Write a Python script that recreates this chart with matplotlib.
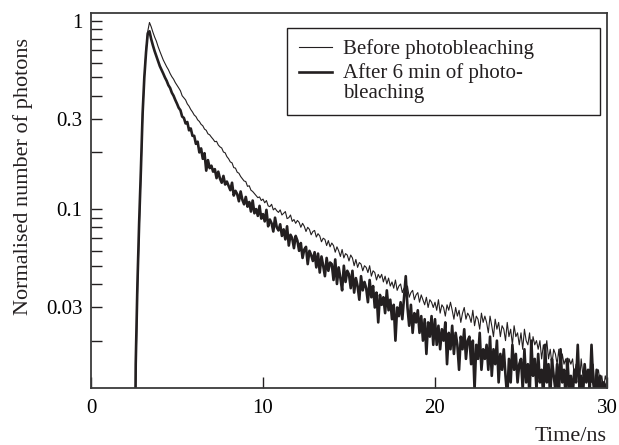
import numpy as np
import matplotlib.pyplot as plt

plt.rcParams['font.family'] = ['Liberation Serif', 'DejaVu Serif']

# time axis of the decay curves (0.1 ns bins)
time_ns = np.linspace(2.5, 30.0, 276)

# normalised photon counts
before = [
    0.001, 0.012, 0.035, 0.075, 0.15,
    0.30, 0.50, 0.70, 0.88, 0.98, 0.93, 0.87, 0.82, 0.78, 0.73,
    0.69, 0.655, 0.62, 0.595, 0.57, 0.55, 0.525, 0.505, 0.49, 0.47,
    0.455, 0.44, 0.425, 0.40, 0.39, 0.38, 0.362, 0.352, 0.338, 0.328,
    0.316, 0.31, 0.298, 0.292, 0.282, 0.277, 0.266, 0.262, 0.251, 0.248,
    0.241, 0.235, 0.228, 0.229, 0.219, 0.214, 0.211, 0.201, 0.199, 0.190,
    0.185, 0.178, 0.176, 0.166, 0.165, 0.157, 0.155, 0.149, 0.145, 0.141,
    0.140, 0.132, 0.133, 0.126, 0.124, 0.121, 0.118, 0.115, 0.116, 0.111,
    0.113, 0.108, 0.111, 0.104, 0.103, 0.106, 0.099, 0.101, 0.098, 0.096,
    0.099, 0.093, 0.095, 0.097, 0.089, 0.090, 0.093, 0.086, 0.088, 0.084,
    0.087, 0.085, 0.080, 0.084, 0.081, 0.076, 0.080, 0.078, 0.073, 0.076,
    0.077, 0.071, 0.074, 0.072, 0.067, 0.070, 0.069, 0.064, 0.068, 0.063,
    0.066, 0.064, 0.059, 0.063, 0.060, 0.056, 0.061, 0.055, 0.058, 0.057,
    0.053, 0.057, 0.055, 0.050, 0.054, 0.049, 0.052, 0.051, 0.047, 0.050,
    0.049, 0.046, 0.050, 0.044, 0.047, 0.046, 0.042, 0.045, 0.043, 0.045,
    0.041, 0.044, 0.040, 0.043, 0.039, 0.041, 0.038, 0.042, 0.037, 0.039,
    0.040, 0.036, 0.038, 0.035, 0.039, 0.034, 0.036, 0.037, 0.033, 0.035,
    0.036, 0.032, 0.035, 0.033, 0.031, 0.034, 0.030, 0.033, 0.032, 0.030,
    0.032, 0.029, 0.033, 0.028, 0.031, 0.030, 0.027, 0.031, 0.029, 0.032,
    0.029, 0.026, 0.030, 0.027, 0.029, 0.025, 0.028, 0.030, 0.026, 0.028,
    0.027, 0.025, 0.029, 0.024, 0.027, 0.026, 0.023, 0.028, 0.025, 0.027,
    0.025, 0.022, 0.027, 0.024, 0.021, 0.026, 0.023, 0.025, 0.021, 0.024,
    0.023, 0.020, 0.025, 0.021, 0.023, 0.019, 0.024, 0.021, 0.022, 0.019,
    0.022, 0.018, 0.023, 0.020, 0.019, 0.022, 0.017, 0.021, 0.019, 0.020,
    0.018, 0.020, 0.016, 0.019, 0.017, 0.020, 0.016, 0.018, 0.015, 0.018,
    0.017, 0.015, 0.018, 0.014, 0.017, 0.015, 0.016, 0.013, 0.016, 0.015,
    0.016, 0.013, 0.015, 0.014, 0.012, 0.016, 0.013, 0.015, 0.012, 0.014,
    0.014, 0.012, 0.015, 0.011, 0.013, 0.014, 0.012, 0.013, 0.011, 0.013,
    0.012,
]

after = [
    0.001, 0.015, 0.04, 0.085, 0.16,
    0.32, 0.50, 0.68, 0.86, 0.88, 0.80, 0.74, 0.69, 0.65, 0.61,
    0.575, 0.55, 0.525, 0.50, 0.48, 0.455, 0.44, 0.415, 0.40, 0.38,
    0.363, 0.345, 0.335, 0.310, 0.305, 0.285, 0.290, 0.262, 0.268, 0.245,
    0.245, 0.222, 0.228, 0.200, 0.210, 0.185, 0.198, 0.160, 0.182, 0.165,
    0.170, 0.158, 0.163, 0.146, 0.158, 0.145, 0.138, 0.150, 0.135, 0.140,
    0.133, 0.126, 0.138, 0.118, 0.125, 0.120, 0.110, 0.124, 0.112, 0.106,
    0.116, 0.103, 0.109, 0.097, 0.111, 0.095, 0.100, 0.092, 0.104, 0.089,
    0.094, 0.086, 0.099, 0.081, 0.088, 0.084, 0.076, 0.090, 0.080, 0.077,
    0.083, 0.072, 0.078, 0.069, 0.081, 0.064, 0.073, 0.070, 0.062, 0.072,
    0.068, 0.060, 0.066, 0.055, 0.061, 0.063, 0.051, 0.060, 0.057, 0.053,
    0.059, 0.049, 0.058, 0.046, 0.056, 0.050, 0.044, 0.055, 0.047, 0.052,
    0.051, 0.042, 0.054, 0.040, 0.049, 0.043, 0.037, 0.050, 0.041, 0.047,
    0.045, 0.038, 0.047, 0.036, 0.043, 0.039, 0.033, 0.044, 0.037, 0.041,
    0.038, 0.032, 0.042, 0.034, 0.039, 0.030, 0.036, 0.025, 0.035, 0.031,
    0.034, 0.028, 0.037, 0.029, 0.033, 0.026, 0.031, 0.020, 0.030, 0.027,
    0.032, 0.026, 0.034, 0.044, 0.030, 0.024, 0.031, 0.022, 0.028, 0.025,
    0.029, 0.022, 0.027, 0.020, 0.026, 0.017, 0.025, 0.021, 0.027, 0.019,
    0.026, 0.019, 0.024, 0.018, 0.023, 0.020, 0.025, 0.015, 0.022, 0.018,
    0.024, 0.017, 0.022, 0.019, 0.014, 0.021, 0.018, 0.023, 0.016, 0.020,
    0.021, 0.015, 0.020, 0.011, 0.019, 0.016, 0.022, 0.014, 0.018, 0.016,
    0.019, 0.014, 0.021, 0.013, 0.018, 0.015, 0.020, 0.012, 0.017, 0.014,
    0.018, 0.013, 0.010, 0.016, 0.012, 0.019, 0.014, 0.017, 0.012, 0.015,
    0.016, 0.011, 0.018, 0.012, 0.015, 0.010, 0.020, 0.013, 0.016, 0.011,
    0.017, 0.012, 0.014, 0.010, 0.019, 0.012, 0.015, 0.010, 0.016, 0.013,
    0.011, 0.015, 0.010, 0.018, 0.012, 0.014, 0.010, 0.016, 0.011, 0.013,
    0.010, 0.014, 0.012, 0.019, 0.011, 0.013, 0.010, 0.015, 0.012, 0.014,
    0.011, 0.019, 0.012, 0.010, 0.014, 0.011, 0.013, 0.010, 0.012, 0.011,
    0.012,
]

major_y = [0.03, 0.1, 0.3, 1]
major_y_labels = ['0.03', '0.1', '0.3', '1']
minor_y = [0.02, 0.04, 0.05, 0.06, 0.07, 0.08, 0.09,
           0.2, 0.4, 0.5, 0.6, 0.7, 0.8, 0.9]
x_ticks = [0, 10, 20, 30]

ink = '#231f20'

fig = plt.figure(figsize=(6.19, 4.45), dpi=100)
ax = fig.add_axes([0.147, 0.128, 0.8336, 0.8427])

ax.plot(time_ns, before, color=ink, lw=0.8, label='Before photobleaching')
ax.plot(time_ns, after, color=ink, lw=1.9,
        label='After 6 min of photo-\nbleaching')

ax.set_yscale('log')
ax.set_xlim(0, 30)
ax.set_ylim(0.0112, 1.1)

ax.set_xticks(x_ticks)
ax.set_xticklabels([str(v) for v in x_ticks])
ax.set_yticks(major_y)
ax.set_yticklabels(major_y_labels)
ax.set_yticks(minor_y, minor=True)
ax.yaxis.set_minor_formatter(plt.NullFormatter())
ax.tick_params(which='both', direction='in', length=8, width=1,
               color=ink, labelsize=15, pad=6)
ax.tick_params(axis='x', pad=8)

for s in ax.spines.values():
    s.set_color('#3a3a3a')
    s.set_linewidth(1.3)

ax.set_ylabel('Normalised number of photons', fontsize=16, color=ink)
ax.yaxis.set_label_coords(-0.113, 0.565)
ax.set_xlabel('Time/ns', fontsize=16, color=ink)
ax.xaxis.set_label_coords(1.0, -0.105)
ax.xaxis.label.set_horizontalalignment('right')

leg = ax.legend(loc='upper left', bbox_to_anchor=(0.38, 0.717, 0.606, 0.243),
                mode='expand', fontsize=15, frameon=True, fancybox=False,
                framealpha=1, edgecolor=ink, borderpad=0.55,
                handlelength=1.6, handletextpad=0.55, labelspacing=0.2,
                borderaxespad=0)
leg.get_frame().set_linewidth(1.0)
for t in leg.get_texts():
    t.set_linespacing(1.05)
    t.set_color(ink)
h = leg.legend_handles[1]
h.set_ydata(np.asarray(h.get_ydata()) + 8)

fig.savefig('out.png', dpi=100)
